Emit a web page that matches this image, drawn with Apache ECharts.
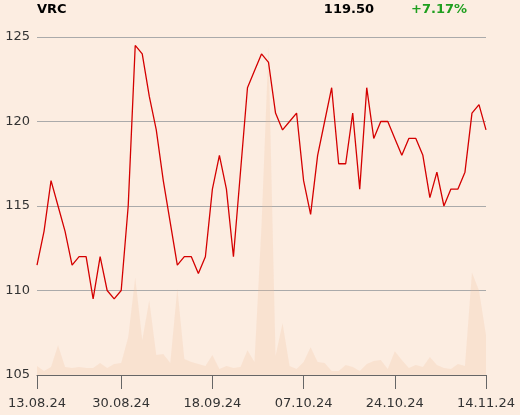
<!DOCTYPE html>
<html>
<head>
<meta charset="utf-8">
<script src="https://cdn.jsdelivr.net/npm/echarts@6/dist/echarts.min.js"></script>
<style>
html,body{margin:0;padding:0;background:#fcede1;}
#chart{width:520px;height:415px;}
</style>
</head>
<body>
<div id="chart"></div>
<script>
const dates = ["13.08.24","14.08.24","16.08.24","19.08.24","20.08.24","21.08.24","22.08.24","23.08.24","26.08.24","27.08.24","28.08.24","29.08.24","30.08.24",
"02.09.24","03.09.24","04.09.24","05.09.24","06.09.24","09.09.24","10.09.24","11.09.24","12.09.24","13.09.24","16.09.24","17.09.24","18.09.24",
"19.09.24","20.09.24","23.09.24","24.09.24","25.09.24","26.09.24","27.09.24","30.09.24","01.10.24","02.10.24","03.10.24","04.10.24","07.10.24",
"08.10.24","09.10.24","10.10.24","11.10.24","14.10.24","15.10.24","16.10.24","17.10.24","18.10.24","21.10.24","22.10.24","23.10.24","24.10.24",
"25.10.24","28.10.24","29.10.24","30.10.24","04.11.24","05.11.24","06.11.24","07.11.24","08.11.24","11.11.24","12.11.24","13.11.24","14.11.24"];
const prices = [111.5,113.5,116.5,115,113.5,111.5,112,112,109.5,112,110,109.5,110,115,124.5,124,121.5,119.5,116.5,114,111.5,112,112,111,112,116,118,116,112,117,122,123,124,123.5,120.5,119.5,120,120.5,116.5,114.5,118,120,122,117.5,117.5,120.5,116,122,119,120,120,119,118,119,119,118,115.5,117,115,116,116,117,120.5,121,119.5];
const volumes = [9,4,8,30,8,7,8,7,7,12,7,11,12,38,98,35,75,20,21,12,87,16,13,11,9,20,6,9,7,8,25,13,150,330,19,52,9,6,13,28,13,12,4,4,10,8,4,11,14,15,6,24,15,7,10,8,18,10,7,6,11,9,103,85,40];
const tickIdx = [0,12,25,38,51,64];
const yTicks = [105,110,115,120,125];
const ticker = "VRC";
const lastPrice = "119.50";
const change = "+7.17%";

const chart = echarts.init(document.getElementById('chart'));
const font = 'DejaVu Sans';
chart.setOption({
  backgroundColor: '#fcede1',
  animation: false,
  grid: {left: 37, right: 34, top: 37, bottom: 40},
  graphic: [
    {type:'text', left: 37, top: 3, style:{text: ticker, font:'bold 13px "DejaVu Sans"', fill:'#000'}},
    {type:'text', right: 146, top: 3, style:{text: lastPrice, font:'bold 13px "DejaVu Sans"', fill:'#000', textAlign:'right'}},
    {type:'text', left: 411, top: 3, style:{text: change, font:'bold 13px "DejaVu Sans"', fill:'#1f9f1f'}}
  ],
  xAxis: {
    type: 'category',
    data: dates,
    boundaryGap: false,
    axisLine: {show: true, lineStyle: {color: '#666', width: 1}},
    axisTick: {show: true, length: 14, lineStyle: {color: '#666'}, interval: (i) => tickIdx.includes(i)},
    axisLabel: {interval: (i) => tickIdx.includes(i), fontSize: 13, fontFamily: font, color: '#333', margin: 22},
    splitLine: {show: false}
  },
  yAxis: [
    {
      type: 'value', min: yTicks[0], max: yTicks[yTicks.length-1], interval: 5,
      axisLine: {show: false}, axisTick: {show: false},
      axisLabel: {fontSize: 13, fontFamily: font, color: '#333', margin: 7},
      splitLine: {show: true, lineStyle: {color: '#aaa', width: 1}}
    },
    {type: 'value', min: 0, max: 340, show: false, splitLine: {show: false}}
  ],
  series: [
    {
      type: 'line', yAxisIndex: 1, data: volumes, symbol: 'none',
      lineStyle: {width: 0}, areaStyle: {color: 'rgba(240,190,150,0.32)'}, z: 1
    },
    {
      type: 'line', yAxisIndex: 0, data: prices, symbol: 'none',
      lineStyle: {color: '#d40000', width: 1.3}, z: 3
    }
  ]
});
</script>
</body>
</html>
